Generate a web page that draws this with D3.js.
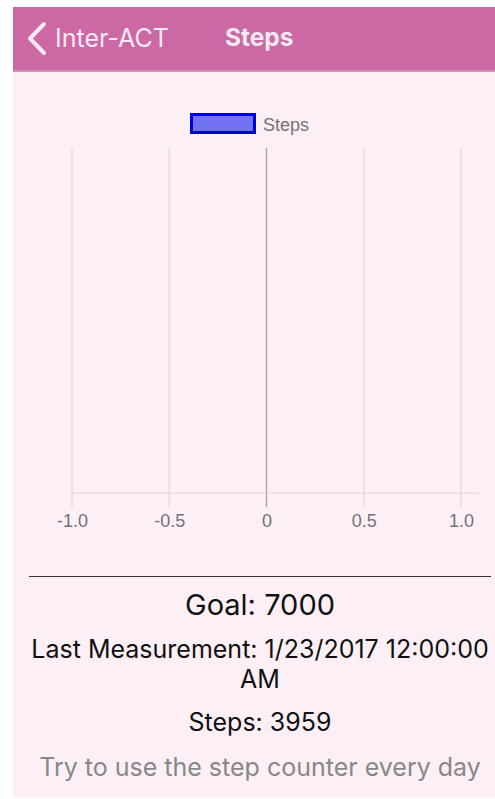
<!DOCTYPE html>
<html><head><meta charset="utf-8">
<script src="https://cdn.jsdelivr.net/npm/d3@7"></script>
<style>
html,body{margin:0;padding:0;background:#fff;}
svg{display:block;}
</style></head>
<body>
<svg id="c" width="495" height="799"></svg>
<script>
// ---- data ----
const seriesName = "Steps";
const categories = [];          // no measurements plotted
const stepsValues = [];         // empty series
const xTickValues = [-1.0, -0.5, 0, 0.5, 1.0];
const xTickLabels = ["-1.0", "-0.5", "0", "0.5", "1.0"];
const goal = 7000;
const lastMeasurement = "1/23/2017 12:00:00";
const lastMeasurementSuffix = "AM";
const steps = 3959;

const svg = d3.select("#c");
const font = "Inter, 'Liberation Sans', sans-serif";
const chartFont = "'Liberation Sans', Arial, sans-serif";

// page background
svg.append("rect").attr("x", 13).attr("y", 7).attr("width", 482).attr("height", 790).attr("fill", "#fcf0f6");
// header
svg.append("rect").attr("x", 13).attr("y", 7).attr("width", 482).attr("height", 63).attr("fill", "#cc68a4");
svg.append("rect").attr("x", 13).attr("y", 70).attr("width", 482).attr("height", 2).attr("fill", "#d592b8");
svg.append("path").attr("d", "M44,24 L30,38.5 L44,53").attr("fill", "none").attr("stroke", "#f8eaf2")
  .attr("stroke-width", 4).attr("stroke-linecap", "round").attr("stroke-linejoin", "round");
svg.append("text").attr("x", 55).attr("y", 47).attr("font-family", font).attr("font-size", 25)
  .attr("fill", "#f8eaf2").text("Inter-ACT");
svg.append("text").attr("x", 225).attr("y", 46).attr("font-family", font).attr("font-size", 24.5)
  .attr("font-weight", "bold").attr("fill", "#f8eaf2").text("Steps");

// chart
const x = d3.scaleLinear().domain([-1, 1]).range([72, 461]);
const y = d3.scaleBand().domain(categories).range([148, 493]).padding(0.2);
const gridTop = 148, axisY = 493;

const g = svg.append("g");
g.selectAll("line.grid").data(xTickValues).join("line")
  .attr("x1", d => x(d)).attr("x2", d => x(d)).attr("y1", gridTop).attr("y2", axisY + 14)
  .attr("stroke", d => d === 0 ? "#a8a0a6" : "#dcd4da").attr("stroke-width", d => d === 0 ? 1.3 : 1.2);
g.append("line").attr("x1", 72).attr("x2", 479).attr("y1", axisY).attr("y2", axisY)
  .attr("stroke", "#dcd4da").attr("stroke-width", 1.2);

const axis = d3.axisBottom(x).tickValues(xTickValues).tickFormat((d, i) => xTickLabels[i]).tickSize(0).tickPadding(0);
const ax = g.append("g").attr("transform", `translate(0,${axisY + 34})`).call(axis);
ax.select(".domain").remove();
ax.selectAll("text").attr("font-family", chartFont).attr("font-size", 18)
  .attr("fill", "#757075").attr("dy", 0);

// bars (none)
g.selectAll("rect.bar").data(stepsValues).join("rect").attr("class", "bar")
  .attr("x", x(0)).attr("y", (d, i) => y(categories[i])).attr("height", y.bandwidth())
  .attr("width", d => x(d) - x(0)).attr("fill", "#7272f2").attr("stroke", "#0000e0");

// legend
svg.append("rect").attr("x", 191.5).attr("y", 114.5).attr("width", 63).attr("height", 18)
  .attr("fill", "#7272f2").attr("stroke", "#0000e0").attr("stroke-width", 3);
svg.append("text").attr("x", 263).attr("y", 131).attr("font-family", chartFont)
  .attr("font-size", 18).attr("fill", "#757075").text(seriesName);

// separator
svg.append("line").attr("x1", 29).attr("x2", 491).attr("y1", 576.5).attr("y2", 576.5)
  .attr("stroke", "#333").attr("stroke-width", 1.2);

const cx = 260;
const t = (yy, size, txt, col) => svg.append("text").attr("x", cx).attr("y", yy).attr("text-anchor", "middle")
  .attr("font-family", font).attr("font-size", size).attr("fill", col).text(txt);
t(615, 29, `Goal: ${goal}`, "#111");
t(658, 25, `Last Measurement: ${lastMeasurement}`, "#111");
t(688, 25, lastMeasurementSuffix, "#111");
t(731, 25, `Steps: ${steps}`, "#111");
t(776, 25, "Try to use the step counter every day", "#888");
</script>
</body></html>
